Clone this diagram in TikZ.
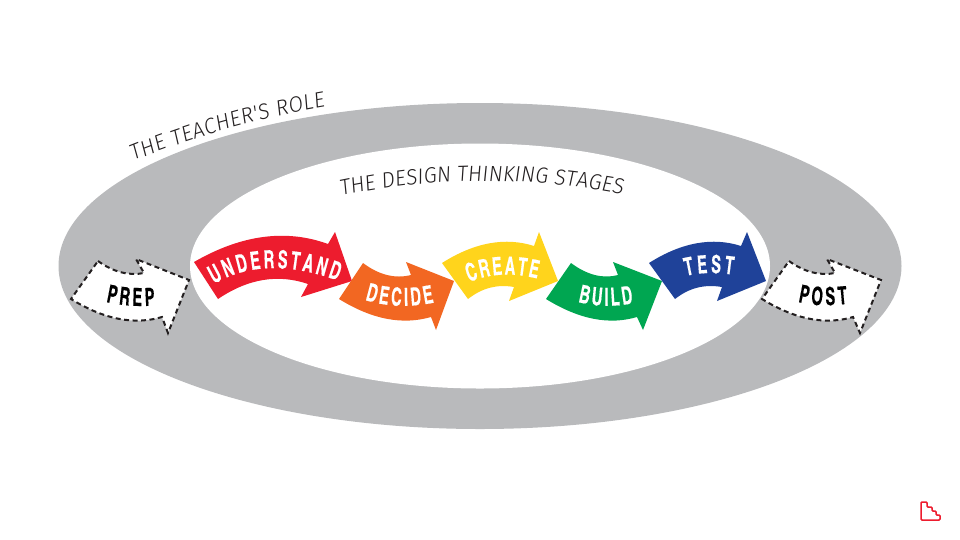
\documentclass[tikz,border=0pt]{standalone}
\usepackage{fontspec}
\usetikzlibrary{decorations.text}
\newfontfamily\arrowfont{TeX Gyre Heros Cn}[BoldFont=* Bold,BoldFeatures={FakeStretch=0.72,FakeBold=0.3}]
\newfontfamily\handfont[FakeStretch=0.95,FakeSlant=0.1]{Fira Sans Light}
\definecolor{ringgray}{HTML}{B9BABC}
\definecolor{cred}{HTML}{ED1C2E}
\definecolor{corange}{HTML}{F26722}
\definecolor{cyellow}{HTML}{FFD41C}
\definecolor{cgreen}{HTML}{00A651}
\definecolor{cblue}{HTML}{1F4299}
\definecolor{ink}{HTML}{231F20}
\newcommand{\stagefont}{\arrowfont\bfseries\fontsize{25}{25}\selectfont}
\newcommand{\capfont}{\handfont\fontsize{22}{22}\selectfont\color{ink}}
\tikzset{
  dashedarrow/.style={fill=white,draw=ink,line width=2pt,dash pattern=on 5pt off 3.5pt},
  fitlabel/.style={decorate,decoration={text along path,text align=fit to path,text={#1}}}
}
\begin{document}
\begin{tikzpicture}[x=1pt,y=-1pt]
\useasboundingbox (0,0) rectangle (960,539);
\fill[ringgray] (480,266) ellipse [x radius=421.5,y radius=163];
\fill[white] (480,266) ellipse [x radius=290,y radius=122.5];
% stage arrows
\fill[cred] (194,262) .. controls (241.3,234.7) and (286,228.7) .. (328,244)
  -- (335,232) -- (352,281) -- (301,297) -- (308,284)
  .. controls (278,273.7) and (248,278.7) .. (218,299) -- cycle;
\fill[corange] (363,263) .. controls (379,275) and (395,279) .. (411,275)
  -- (406,262) -- (454,281) -- (436,330) -- (431,317)
  .. controls (403,325) and (373,320) .. (339,299) -- cycle;
\fill[cyellow] (442,263) .. controls (475,242) and (506,237) .. (534,246)
  -- (539,232) -- (558,281) -- (509,301) -- (514,287)
  .. controls (497,284) and (482,288) .. (468,299) -- cycle;
\fill[cgreen] (571,263) .. controls (587,275) and (603,279) .. (618,275)
  -- (613,262) -- (662,281) -- (643,330) -- (637,317)
  .. controls (610,325) and (580,320) .. (546,299) -- cycle;
\fill[cblue] (649,263) .. controls (682,242) and (713,237) .. (741,246)
  -- (747,232) -- (766,281) -- (717,301) -- (722,287)
  .. controls (704,284) and (689,288) .. (675,299) -- cycle;
% dashed arrows
\draw[dashedarrow] (98,261) .. controls (113,272) and (129,276) .. (144,273)
  -- (136,259) -- (189,280) -- (168,333) -- (162,317)
  .. controls (135,325) and (105,320) .. (71,299) -- cycle;
\draw[dashedarrow] (789,261) .. controls (804,272) and (820,276) .. (835,273)
  -- (827,259) -- (881,280) -- (860,333) -- (853,317)
  .. controls (826,325) and (796,320) .. (762,299) -- cycle;
% arrow labels
\path[fitlabel={|\stagefont\color{white}|UNDERSTAND{\hphantom{.}}}] (214,284) .. controls (248,264) and (290,262) .. (344,283);
\path[fitlabel={|\stagefont\color{white}|DECIDE{\hphantom{.}}}] (365,300) .. controls (388,307) and (413,308) .. (441,301);
\path[fitlabel={|\stagefont\color{white}|CREATE{\hphantom{.}}}] (469,282) .. controls (492,273) and (514,272) .. (543,280);
\path[fitlabel={|\stagefont\color{white}|BUILD{\hphantom{.}}}] (578,302) .. controls (598,307) and (616,307) .. (640,302);
\path[fitlabel={|\stagefont\color{white}|TEST{\hphantom{.}}}] (686,276) .. controls (702,272) and (720,272) .. (740,276);
\path[fitlabel={|\stagefont\color{black}|PREP{\hphantom{.}}}] (106,302) .. controls (124,306) and (140,307) .. (162,305);
\path[fitlabel={|\stagefont\color{black}|POST{\hphantom{.}}}] (798,302) .. controls (815,306) and (831,306) .. (855,303);
% captions
\path[fitlabel={|\capfont|THE TEACHER'S ROLE}] (133,161) .. controls (196,136) and (260,118) .. (325,107);
\path[fitlabel={|\capfont|THE DESIGN THINKING STAGES}] (341,196) .. controls (433,177) and (526,176) .. (622,194);
% logo
\draw[cred,line width=1.5pt,rounded corners=1pt] (921,502) -- (927,502) -- (927,507) -- (932,507) -- (932,511) -- (936,511) -- (936,515) -- (940,515) -- (940,520) -- (921,520) -- cycle;
\end{tikzpicture}
\end{document}
